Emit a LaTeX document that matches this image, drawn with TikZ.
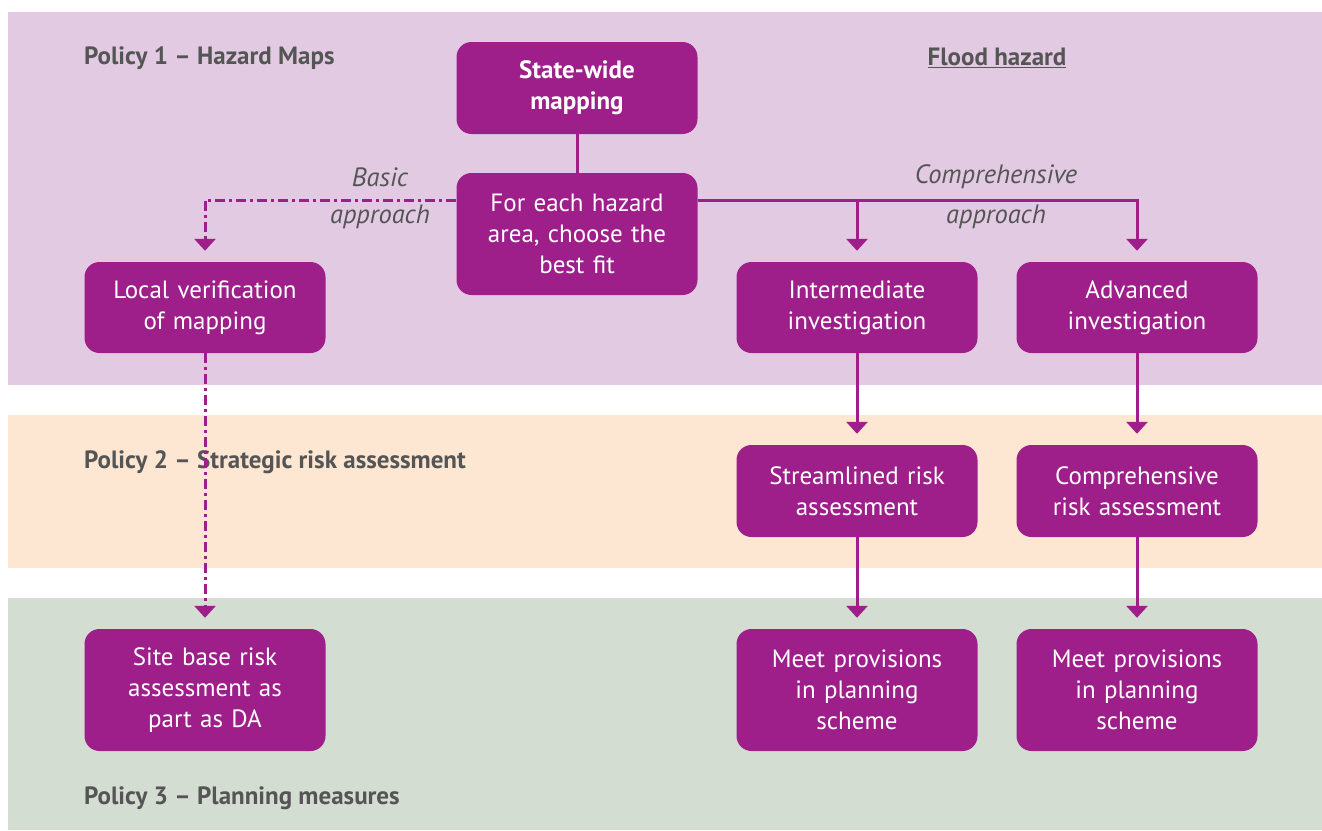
\documentclass[tikz,border=0pt]{standalone}
\usepackage{fontspec}
\setmainfont{PT Sans}
\usetikzlibrary{arrows.meta}
\definecolor{boxpurple}{RGB}{158,31,138}
\definecolor{bandpurple}{RGB}{226,203,226}
\definecolor{bandorange}{RGB}{253,230,210}
\definecolor{bandgreen}{RGB}{211,221,210}
\definecolor{labelgray}{RGB}{85,85,85}
\tikzset{
  stepbox/.style={fill=boxpurple, rounded corners=15pt, text=white, align=center,
    minimum width=241pt, text width=232pt, inner sep=0pt,
    font=\fontsize{25}{31}\selectfont},
  policy/.style={anchor=west, text=labelgray, font=\fontsize{25}{28}\selectfont\bfseries, inner sep=0pt},
  approach/.style={text=labelgray, font=\fontsize{26.5}{28}\selectfont\itshape, inner sep=0pt},
  conn/.style={draw=boxpurple, line width=3pt},
  arr/.style={conn, -{Triangle[width=21pt,length=12pt]}, shorten >=11pt},
  dashdot/.style={dash pattern=on 10pt off 4pt on 3pt off 4pt}
}
\begin{document}
\begin{tikzpicture}[x=1pt,y=-1pt]
\useasboundingbox (0,0) rectangle (1322,830);
% bands
\fill[bandpurple] (8,12) rectangle (1322,385);
\fill[bandorange] (8,415) rectangle (1322,568);
\fill[bandgreen] (8,598) rectangle (1322,830);
% labels
\node[policy] (p1) at (84,58) {Policy 1 – Hazard Maps};
\node[policy] (p2) at (84,462) {Policy 2 – Strategic risk assessment};
\node[policy] (p3) at (84,798) {Policy 3 – Planning measures};
\node[text=labelgray, font=\fontsize{25}{28}\selectfont\bfseries, inner sep=0pt] (fh) at (997,58) {\underline{Flood hazard}};
\node[approach] (ba1) at (380,177) {Basic};
\node[approach] (ba2) at (380,217) {approach};
\node[approach] (ca1) at (996,177) {Comprehensive};
\node[approach] (ca2) at (996,217) {approach};
% boxes
\node[stepbox, minimum height=92pt, font=\fontsize{25}{31}\selectfont\bfseries] (sw) at (577,88) {State-wide\\mapping};
\node[stepbox, minimum height=122pt] (fe) at (577,234) {For each hazard\\area, choose the\\best fit};
\node[stepbox, minimum height=91pt] (lv) at (205,307.5) {Local verification\\of mapping};
\node[stepbox, minimum height=91pt] (im) at (857,307.5) {Intermediate\\investigation};
\node[stepbox, minimum height=91pt] (ad) at (1137,307.5) {Advanced\\investigation};
\node[stepbox, minimum height=92pt] (sl) at (857,491) {Streamlined risk\\assessment};
\node[stepbox, minimum height=92pt] (cr) at (1137,491) {Comprehensive\\risk assessment};
\node[stepbox, minimum height=122pt] (sb) at (205,690) {Site base risk\\assessment as\\part as DA};
\node[stepbox, minimum height=122pt] (m1) at (857,690) {Meet provisions\\in planning\\scheme};
\node[stepbox, minimum height=122pt] (m2) at (1137,690) {Meet provisions\\in planning\\scheme};
% connectors
\coordinate (jl) at (205,200);
\coordinate (jr) at (1137,200);
\draw[conn] (sw.south) -- (fe.north);
\draw[arr, dashdot] (fe.west |- jl) -- (jl) -- (lv.north);
\draw[arr] (fe.east |- jr) -- (jr) -- (ad.north);
\draw[arr] (im.north |- jr) -- (im.north);
\draw[arr] (im.south) -- (sl.north);
\draw[arr] (ad.south) -- (cr.north);
\draw[arr] (sl.south) -- (m1.north);
\draw[arr] (cr.south) -- (m2.north);
\draw[arr, dashdot] (lv.south) -- (sb.north);
\end{tikzpicture}
\end{document}
